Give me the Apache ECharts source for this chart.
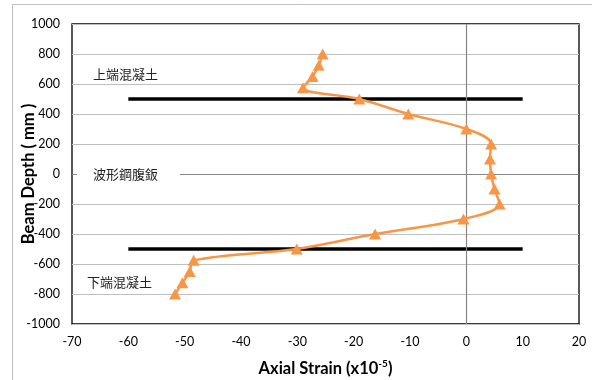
<!DOCTYPE html>
<html>
<head>
<meta charset="UTF-8">
<title></title>
<script src="https://cdn.jsdelivr.net/npm/echarts@6/dist/echarts.min.js"></script>
<style>
  html, body { margin: 0; padding: 0; background: #fff; }
</style>
</head>
<body>
<div id="main" style="width: 592px;height:380px;"></div>
<script type="text/javascript">
// axial strain (x10^-5) vs beam depth (mm)
var strain = [-25.5, -26.2, -27.3, -29, -19, -10.3, 0, 4.4, 4.2, 4.4, 5.0, 5.9, -0.5, -16.2, -30.1, -48.4, -49.1, -50.4, -51.7];
var depth = [800, 725, 650, 575, 500, 400, 300, 200, 100, 0, -100, -200, -300, -400, -500, -575, -650, -725, -800];

// flange boundary lines
var boundX = [-60, 10];
var boundTop = 500;
var boundBottom = -500;

var labels = ['上端混凝土', '波形鋼腹鈑', '下端混凝土'];

var pts = strain.map(function (v, i) { return [v, depth[i]]; });
var font = 'Lato, "Open Sans", sans-serif';
var cjk = '"Noto Sans CJK TC", "Noto Sans CJK SC", sans-serif';

var option = {
  animation: false,
  grid: {
    left: 72, right: 13, top: 24, bottom: 56,
    outerBoundsMode: 'none',
    show: true, borderColor: '#000', borderWidth: 1.3, backgroundColor: 'transparent'
  },
  xAxis: {
    type: 'value', min: -70, max: 20, interval: 10,
    axisLine: { show: false },
    axisTick: { show: false },
    splitLine: { show: false },
    axisLabel: { color: '#000', fontSize: 12.5, fontFamily: font, margin: 11 },
    name: 'Axial Strain (x10{sup|-5})',
    nameLocation: 'middle', nameGap: 35, nameMoveOverlap: false,
    nameTextStyle: {
      color: '#000', fontSize: 16.5, fontWeight: 'bold', fontFamily: font,
      rich: { sup: { fontSize: 10, fontWeight: 'bold', verticalAlign: 'top', padding: [0, 0, 9, 0], fontFamily: font, color: '#000' } }
    }
  },
  yAxis: {
    type: 'value', min: -1000, max: 1000, interval: 200,
    axisLine: { show: false },
    axisTick: { show: false },
    splitLine: { show: true, lineStyle: { color: '#bfbfbf', width: 1 } },
    axisLabel: {
      color: '#000', fontSize: 12.5, fontFamily: font, margin: 12,
      formatter: function (v) { return String(v); }
    },
    name: 'Beam Depth ( mm )',
    nameLocation: 'middle', nameGap: 35, nameRotate: 90, nameMoveOverlap: false,
    nameTextStyle: { color: '#000', fontSize: 16.5, fontWeight: 'bold', fontFamily: font }
  },
  graphic: [
    { type: 'rect', shape: { x: 12.5, y: 4.5, width: 620, height: 420 }, style: { fill: 'none', stroke: '#c0c0c0', lineWidth: 1 }, z: -10 },
    { type: 'text', left: 93, top: 68, style: { text: labels[0], fontSize: 13, fontFamily: cjk, fill: '#222' }, z: 100 },
    { type: 'text', left: 77, top: 166, style: { text: labels[1], fontSize: 13, fontFamily: cjk, fill: '#222', backgroundColor: '#fff', padding: [2, 22, 2, 16] }, z: 100 },
    { type: 'text', left: 87, top: 276, style: { text: labels[2], fontSize: 13, fontFamily: cjk, fill: '#222' }, z: 100 }
  ],
  series: [
    {
      type: 'line', data: [],
      silent: true,
      markLine: {
        symbol: 'none', silent: true, label: { show: false },
        lineStyle: { color: '#868686', width: 1.2, type: 'solid' },
        data: [{ xAxis: 0 }, { yAxis: 0 }]
      },
      z: 1
    },
    {
      type: 'line', data: [[boundX[0], boundTop], [boundX[1], boundTop]],
      showSymbol: false, lineStyle: { color: '#000', width: 3.5 }, z: 2
    },
    {
      type: 'line', data: [[boundX[0], boundBottom], [boundX[1], boundBottom]],
      showSymbol: false, lineStyle: { color: '#000', width: 3.5 }, z: 2
    },
    {
      type: 'line', data: pts, smooth: 0.35,
      symbol: 'triangle', symbolSize: [12, 11],
      itemStyle: { color: '#F79646' },
      lineStyle: { color: '#F79646', width: 2.5 },
      z: 5
    }
  ]
};

echarts.init(document.getElementById('main')).setOption(option);
</script>
</body>
</html>
